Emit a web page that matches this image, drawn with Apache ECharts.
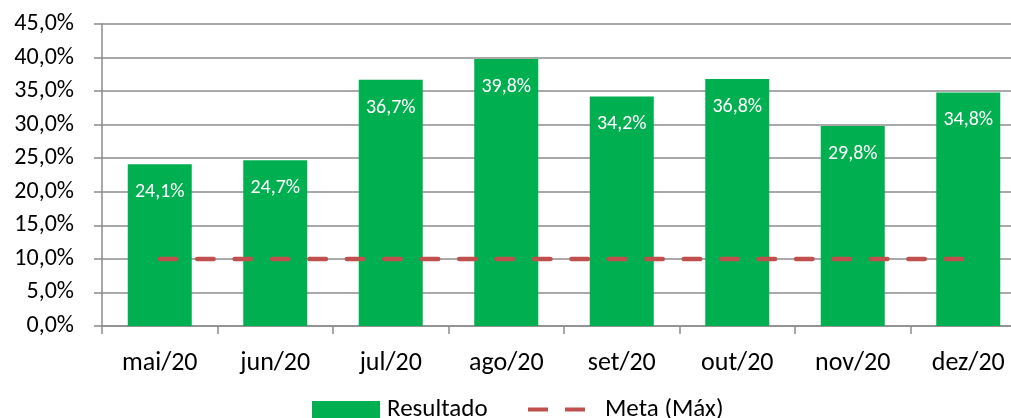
<!DOCTYPE html>
<html>
<head>
<meta charset="utf-8">
<script src="https://cdn.jsdelivr.net/npm/echarts@6/dist/echarts.min.js"></script>
<style>
html,body{margin:0;padding:0;background:#fff;overflow:hidden;width:1011px;height:418px;}
#chart{width:1030px;height:418px;}
</style>
</head>
<body>
<div id="chart"></div>
<script>
const categories = ['mai/20','jun/20','jul/20','ago/20','set/20','out/20','nov/20','dez/20'];
const resultado = [24.1, 24.7, 36.7, 39.8, 34.2, 36.8, 29.8, 34.8];
const meta = [10, 10, 10, 10, 10, 10, 10, 10];
const yTicks = {min: 0, max: 45, interval: 5};

const FONT = 'Carlito, Lato, sans-serif';
const fmt = v => v.toFixed(1).replace('.', ',') + '%';
const dashIcon = 'path://M0,0 H20 V4 H0 Z M37,0 H57 V4 H37 Z';

const chart = echarts.init(document.getElementById('chart'), null, {renderer: 'canvas'});
chart.setOption({
  animation: false,
  backgroundColor: '#ffffff',
  textStyle: {fontFamily: FONT},
  grid: {left: 102, width: 924, top: 24, bottom: 92, containLabel: false},
  legend: [
    {
      data: [{name: 'Resultado', icon: 'rect'}],
      left: 312, top: 397,
      itemWidth: 68, itemHeight: 17, itemGap: 8,
      textStyle: {fontFamily: FONT, fontSize: 25, color: '#000', padding: [0,0,0,2]},
      padding: 0
    },
    {
      data: [{name: 'Meta (Máx)', icon: dashIcon, itemStyle: {color: '#C0504D'}}],
      left: 528, top: 397,
      itemWidth: 59, itemHeight: 4, itemGap: 8,
      textStyle: {fontFamily: FONT, fontSize: 25, color: '#000', padding: [0,0,0,14]},
      padding: 0
    }
  ],
  xAxis: {
    type: 'category',
    data: categories,
    boundaryGap: true,
    axisLine: {show: true, lineStyle: {color: '#8c8c8c', width: 1.5}},
    axisTick: {show: true, length: 8, lineStyle: {color: '#8c8c8c', width: 1.5}},
    axisLabel: {fontFamily: FONT, fontSize: 26, color: '#000', margin: 24}
  },
  yAxis: {
    type: 'value',
    min: yTicks.min, max: yTicks.max, interval: yTicks.interval,
    axisLine: {show: true, lineStyle: {color: '#8c8c8c', width: 1.5}},
    axisTick: {show: true, length: 8, lineStyle: {color: '#8c8c8c', width: 1.5}},
    splitLine: {show: true, lineStyle: {color: '#8c8c8c', width: 1.5}},
    axisLabel: {fontFamily: FONT, fontSize: 24, color: '#000', margin: 28, formatter: v => fmt(v)}
  },
  series: [
    {
      name: 'Resultado',
      type: 'bar',
      data: resultado,
      barWidth: 64,
      itemStyle: {color: '#00B050'},
      label: {
        show: true, position: 'insideTop', distance: 18,
        color: '#fff', fontFamily: FONT, fontSize: 20,
        formatter: p => fmt(p.value)
      },
      z: 2
    },
    {
      name: 'Meta (Máx)',
      type: 'line',
      data: meta,
      symbol: 'none',
      showSymbol: false,
      lineStyle: {color: '#C0504D', width: 4.5, type: [16.43, 21], cap: 'round'},
      itemStyle: {color: '#C0504D'},
      z: 3
    }
  ]
});
</script>
</body>
</html>
